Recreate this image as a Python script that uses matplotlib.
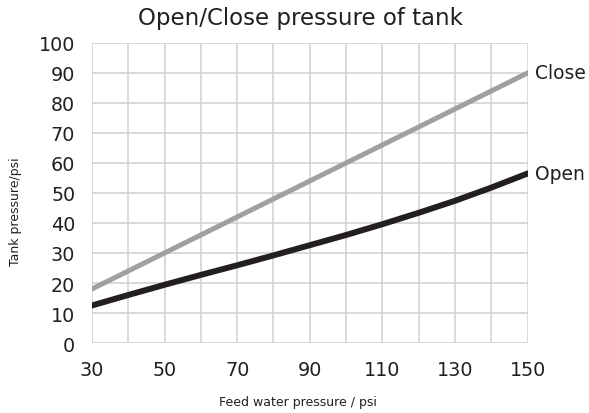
import matplotlib
matplotlib.use("Agg")
import matplotlib.pyplot as plt

# feed water pressure (psi)
feed = [30, 40, 50, 60, 70, 80, 90, 100, 110, 120, 130, 140, 150]
# tank pressure (psi)
close_p = [18, 24, 30, 36, 42, 48, 54, 60, 66, 72, 78, 84, 90]
open_p = [12.5, 16, 19.4, 22.7, 25.9, 29.2, 32.6, 36.0, 39.6, 43.4, 47.4, 51.8, 56.5]

x_ticks = [30, 50, 70, 90, 110, 130, 150]
y_ticks = list(range(0, 101, 10))

text_col = "#231f20"
grid_col = "#cfcfcf"

fig = plt.figure(figsize=(5.89, 4.14), dpi=100)
ax = fig.add_axes([0.156, 0.169, 0.740, 0.725])

ax.plot(feed, close_p, color="#a0a0a0", lw=3.6, solid_capstyle="round",
        solid_joinstyle="round", zorder=3)
ax.plot(feed, open_p, color=text_col, lw=4.3, solid_capstyle="round",
        solid_joinstyle="round", zorder=3)

ax.annotate("Close", (feed[-1], close_p[-1]), xytext=(5, 0), textcoords="offset points",
            va="center", ha="left", fontsize=13.5, color=text_col, annotation_clip=False)
ax.annotate("Open", (feed[-1], open_p[-1]), xytext=(5, 0), textcoords="offset points",
            va="center", ha="left", fontsize=13.5, color=text_col, annotation_clip=False)

ax.set_xlim(30, 150)
ax.set_ylim(0, 100)
ax.set_xticks(x_ticks)
ax.set_xticks(feed, minor=True)
ax.set_yticks(y_ticks)
ax.grid(True, which="both", color=grid_col, lw=1.1, zorder=0)
ax.tick_params(which="both", length=0, labelsize=13.8, labelcolor=text_col)
ax.tick_params(axis="x", pad=12)
ax.tick_params(axis="y", pad=12)
for s in ax.spines.values():
    s.set_visible(False)

fig.text(0.51, 0.955, "Open/Close pressure of tank", ha="center", va="center",
         fontsize=16.5, color=text_col)
fig.text(0.505, 0.028, "Feed water pressure / psi", ha="center", va="center",
         fontsize=9, color=text_col)
fig.text(0.026, 0.488, "Tank pressure/psi", ha="center", va="center", rotation=90,
         fontsize=9, color=text_col)

fig.savefig("out.png", dpi=100)
